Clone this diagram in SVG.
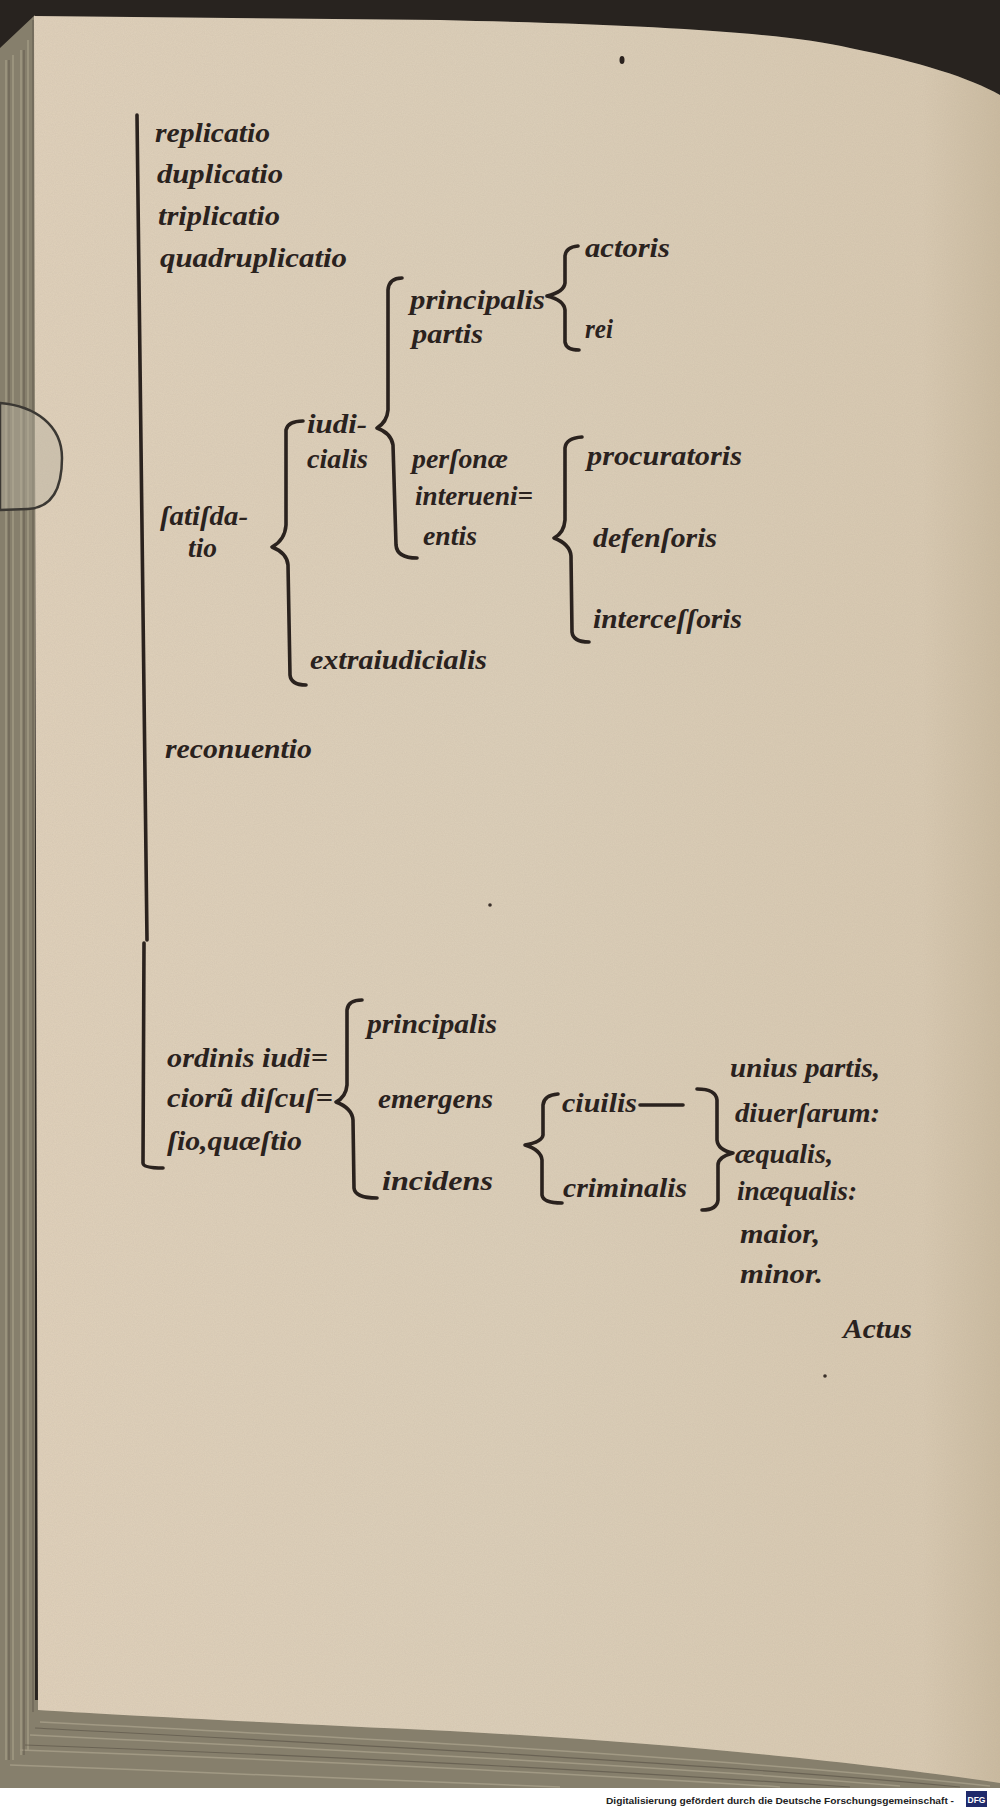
<svg xmlns="http://www.w3.org/2000/svg" width="1000" height="1809" viewBox="0 0 1000 1809">
<style>
.t{font-family:"Liberation Serif","DejaVu Serif",serif;font-style:italic;font-weight:bold;font-size:28px;fill:#2a221e}
.br{fill:none;stroke:#2a221e;stroke-width:3.6;stroke-linecap:round;stroke-linejoin:round}
.ft{font-family:"Liberation Sans","DejaVu Sans",sans-serif;font-size:9.3px;font-weight:bold;fill:#222}
</style>
<defs>
<linearGradient id="pg" x1="0" y1="0" x2="1" y2="0">
<stop offset="0" stop-color="#e0d1bb"/>
<stop offset="0.5" stop-color="#dccfb9"/>
<stop offset="0.92" stop-color="#d9cab2"/>
<stop offset="1" stop-color="#cbbba0"/>
</linearGradient>
<filter id="noise" x="0" y="0" width="100%" height="100%">
<feTurbulence type="fractalNoise" baseFrequency="0.9" numOctaves="2" seed="3"/>
<feColorMatrix type="matrix" values="0 0 0 0 0.45  0 0 0 0 0.38  0 0 0 0 0.3  0 0 0 0.22 0"/>
<feComposite in2="SourceGraphic" operator="in"/>
</filter>
</defs>
<rect width="1000" height="1809" fill="#28231f"/>
<g id="page-stack">
<path d="M0,48 L35,15 L35,1700 L1000,1700 L1000,1788 L0,1788 Z" fill="#867f6c"/>
<g stroke="#a8a08a" stroke-width="1.5" fill="none" opacity="0.8">
<line x1="6" y1="60" x2="6" y2="1760"/><line x1="13" y1="55" x2="13" y2="1760"/><line x1="21" y1="50" x2="21" y2="1755"/><line x1="28" y1="40" x2="28" y2="1750"/>
<path d="M40,1722 C300,1735 700,1755 990,1786"/><path d="M30,1735 C300,1748 650,1765 900,1786"/><path d="M20,1750 C300,1760 600,1775 780,1787"/><path d="M10,1765 C200,1772 400,1780 560,1787"/>
</g>
<g stroke="#5e574a" stroke-width="1.2" fill="none" opacity="0.7">
<line x1="9" y1="60" x2="9" y2="1760"/><line x1="24" y1="50" x2="24" y2="1755"/><line x1="33" y1="20" x2="33" y2="1712"/>
<path d="M35,1728 C300,1742 700,1762 960,1787"/><path d="M25,1745 C300,1755 600,1770 850,1787"/>
</g>
</g>
<g id="page">
<path d="M34,16 L440,20 C650,25 780,32 850,48 C920,62 970,78 1000,95 L1000,1783 C900,1768 700,1744 450,1731 C250,1722 100,1714 38,1710 Z" fill="url(#pg)"/>
<path d="M34,16 L440,20 C650,25 780,32 850,48 C920,62 970,78 1000,95 L1000,1783 C900,1768 700,1744 450,1731 C250,1722 100,1714 38,1710 Z" fill="#ffffff" filter="url(#noise)"/>
<ellipse cx="622" cy="60" rx="2.5" ry="4" fill="#2a221e"/>
<circle cx="490" cy="905" r="1.8" fill="#3a302a"/>
<circle cx="825" cy="1376" r="1.8" fill="#3a302a"/>
</g>
<g id="clip">
<path d="M0,403 C35,406 62,425 62,458 C62,495 48,508 28,509 L0,510 Z" fill="#b8b1a0" fill-opacity="0.45" stroke="#3b3833" stroke-width="2.5"/>
</g>
<g id="connectors">
<path class="br" d="M137,115 L147,940"/>
<path class="br" d="M144,943 L143,1163 Q143,1168 163,1168"/>
<path class="br" d="M303,421 Q288,421 286,430 L286,525 Q285,540 272,547 Q287,553 288,565 L290,675 Q291,685 306,685"/>
<path class="br" d="M402,278 Q389,278 388,290 L388,410 Q387,422 377,428 Q391,433 393,445 L396,545 Q397,558 417,558"/>
<path class="br" d="M578,246 Q566,247 565,256 L565,283 Q564,292 547,296 Q564,300 565,310 L565,342 Q566,350 579,350"/>
<path class="br" d="M582,437 Q566,438 565,448 L565,520 Q564,533 554,538 Q570,544 571,556 L572,632 Q573,642 589,642"/>
<path class="br" d="M362,1000 Q348,1000 347,1010 L347,1085 Q346,1097 336,1102 Q352,1108 353,1120 L354,1188 Q355,1198 377,1198"/>
<path class="br" d="M558,1094 Q544,1095 543,1105 L543,1135 Q542,1142 525,1145 Q541,1150 542,1160 L542,1195 Q543,1203 562,1203"/>
<path class="br" d="M697,1089 Q716,1089 717,1100 L717,1140 Q718,1150 733,1153 Q718,1157 718,1165 L718,1200 Q717,1210 702,1210"/>
<path class="br" d="M640,1105 L683,1105"/>
</g>
<g id="n-replicatio"><text class="t" x="155" y="142" textLength="115" lengthAdjust="spacingAndGlyphs">replicatio</text></g>
<g id="n-duplicatio"><text class="t" x="157" y="183" textLength="126" lengthAdjust="spacingAndGlyphs">duplicatio</text></g>
<g id="n-triplicatio"><text class="t" x="158" y="225" textLength="122" lengthAdjust="spacingAndGlyphs">triplicatio</text></g>
<g id="n-quadruplicatio"><text class="t" x="160" y="267" textLength="187" lengthAdjust="spacingAndGlyphs">quadruplicatio</text></g>
<g id="n-principalis-partis"><text class="t" x="410" y="309" textLength="135" lengthAdjust="spacingAndGlyphs">principalis</text><text class="t" x="412" y="343" textLength="71" lengthAdjust="spacingAndGlyphs">partis</text></g>
<g id="n-actoris"><text class="t" x="585" y="257" textLength="85" lengthAdjust="spacingAndGlyphs">actoris</text></g>
<g id="n-rei"><text class="t" x="585" y="338" textLength="28" lengthAdjust="spacingAndGlyphs">rei</text></g>
<g id="n-iudicialis"><text class="t" x="307" y="433" textLength="60" lengthAdjust="spacingAndGlyphs">iudi-</text><text class="t" x="307" y="468" textLength="61" lengthAdjust="spacingAndGlyphs">cialis</text></g>
<g id="n-personae"><text class="t" x="412" y="468" textLength="96" lengthAdjust="spacingAndGlyphs">perſonæ</text><text class="t" x="415" y="505" textLength="118" lengthAdjust="spacingAndGlyphs">interueni=</text><text class="t" x="423" y="545" textLength="54" lengthAdjust="spacingAndGlyphs">entis</text></g>
<g id="n-procuratoris"><text class="t" x="587" y="465" textLength="155" lengthAdjust="spacingAndGlyphs">procuratoris</text></g>
<g id="n-defensoris"><text class="t" x="593" y="547" textLength="124" lengthAdjust="spacingAndGlyphs">defenſoris</text></g>
<g id="n-intercessoris"><text class="t" x="593" y="628" textLength="149" lengthAdjust="spacingAndGlyphs">interceſſoris</text></g>
<g id="n-satisdatio"><text class="t" x="160" y="525" textLength="88" lengthAdjust="spacingAndGlyphs">ſatiſda-</text><text class="t" x="188" y="557" textLength="29" lengthAdjust="spacingAndGlyphs">tio</text></g>
<g id="n-extraiudicialis"><text class="t" x="310" y="669" textLength="177" lengthAdjust="spacingAndGlyphs">extraiudicialis</text></g>
<g id="n-reconuentio"><text class="t" x="165" y="758" textLength="147" lengthAdjust="spacingAndGlyphs">reconuentio</text></g>
<g id="n-ordinis"><text class="t" x="167" y="1067" textLength="161" lengthAdjust="spacingAndGlyphs">ordinis iudi=</text><text class="t" x="167" y="1107" textLength="166" lengthAdjust="spacingAndGlyphs">ciorũ diſcuſ=</text><text class="t" x="167" y="1150" textLength="135" lengthAdjust="spacingAndGlyphs">ſio,quæſtio</text></g>
<g id="n-principalis2"><text class="t" x="367" y="1033" textLength="130" lengthAdjust="spacingAndGlyphs">principalis</text></g>
<g id="n-emergens"><text class="t" x="378" y="1108" textLength="115" lengthAdjust="spacingAndGlyphs">emergens</text></g>
<g id="n-incidens"><text class="t" x="382" y="1190" textLength="111" lengthAdjust="spacingAndGlyphs">incidens</text></g>
<g id="n-ciuilis"><text class="t" x="562" y="1112" textLength="75" lengthAdjust="spacingAndGlyphs">ciuilis</text></g>
<g id="n-criminalis"><text class="t" x="563" y="1197" textLength="124" lengthAdjust="spacingAndGlyphs">criminalis</text></g>
<g id="n-list">
<text class="t" x="730" y="1077" textLength="150" lengthAdjust="spacingAndGlyphs">unius partis,</text>
<text class="t" x="735" y="1122" textLength="145" lengthAdjust="spacingAndGlyphs">diuerſarum:</text>
<text class="t" x="735" y="1163" textLength="98" lengthAdjust="spacingAndGlyphs">æqualis,</text>
<text class="t" x="737" y="1200" textLength="120" lengthAdjust="spacingAndGlyphs">inæqualis:</text>
<text class="t" x="740" y="1243" textLength="80" lengthAdjust="spacingAndGlyphs">maior,</text>
<text class="t" x="740" y="1283" textLength="83" lengthAdjust="spacingAndGlyphs">minor.</text>
</g>
<g id="n-actus"><text class="t" x="843" y="1338" textLength="69" lengthAdjust="spacingAndGlyphs">Actus</text></g>
<g id="footer">
<rect x="0" y="1788" width="1000" height="21" fill="#ffffff"/>
<text class="ft" x="606" y="1804" textLength="348" lengthAdjust="spacingAndGlyphs">Digitalisierung gefördert durch die Deutsche Forschungsgemeinschaft -</text>
<rect x="966" y="1791" width="21" height="16" fill="#1f2a6b"/>
<text x="976.5" y="1803" text-anchor="middle" font-family="Liberation Sans, DejaVu Sans, sans-serif" font-size="8.5" font-weight="bold" fill="#ffffff">DFG</text>
</g>
</svg>
